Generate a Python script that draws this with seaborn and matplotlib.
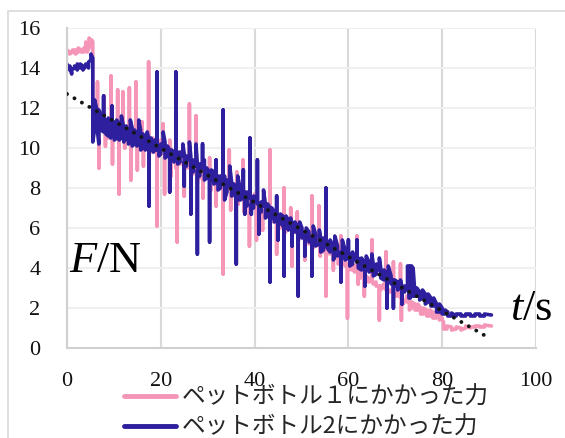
import matplotlib
matplotlib.use("Agg")
import matplotlib.pyplot as plt
from matplotlib.patches import Rectangle
import pandas as pd
import seaborn as sns

# force F [N] against time t [s].
# each entry is one vertical stroke of the logger trace: (t, F, F, ...)
bottle1 = [
    (0.0, 14.7, 14.9), (0.6, 14.8, 14.7), (1.2, 14.8, 14.9), (1.8, 14.9, 14.7),
    (2.4, 14.8, 15.0), (3.0, 14.9, 14.8), (3.6, 14.8, 15.0), (4.0, 15.0, 15.3),
    (4.3, 15.1, 14.8), (4.7, 15.0, 15.5), (5.0, 15.4, 15.1), (5.3, 15.2, 15.4),
    (5.5, 15.3, 11.3), (6.0, 11.2, 12.0), (6.5, 11.5, 13.3, 11.6), (6.8, 11.4, 9.0, 11.2),
    (7.3, 11.0, 11.5), (7.9, 11.0, 12.6, 11.2), (8.2, 11.2, 10.1, 11.0), (8.8, 10.5, 11.3),
    (9.4, 11.0, 13.6, 11.1), (9.7, 11.0, 9.2, 10.9), (10.2, 10.9, 11.1),
    (10.8, 10.7, 12.9, 10.9), (11.1, 10.9, 7.7, 10.7), (11.5, 10.7, 11.0),
    (11.9, 10.9, 12.8, 10.8), (12.3, 10.8, 10.0, 10.6), (12.8, 10.3, 11.1),
    (13.3, 10.6, 13.0, 10.7), (13.6, 10.7, 8.4, 10.5), (14.1, 10.5, 10.8),
    (14.7, 10.4, 13.3, 10.5), (15.0, 10.5, 8.9, 10.3), (15.5, 10.2, 10.6),
    (16.0, 10.2, 11.3, 10.4), (16.3, 10.4, 9.1, 10.2), (16.9, 10.1, 10.4),
    (17.4, 10.0, 14.3, 10.1), (17.7, 10.1, 9.8), (18.3, 9.8, 10.5), (18.8, 10.2, 9.8),
    (19.2, 9.9, 6.1, 9.8), (19.6, 9.8, 10.0), (20.0, 9.8, 10.4),
    (20.5, 10.0, 11.2, 9.9), (20.8, 9.9, 7.7, 9.7), (21.3, 9.6, 9.9),
    (21.9, 9.7, 10.4), (22.2, 9.6, 8.6, 9.5), (22.8, 9.4, 9.7), (23.2, 9.5, 9.0),
    (23.5, 9.2, 5.3, 9.2), (23.9, 9.2, 9.4), (24.3, 9.2, 9.7), (24.7, 9.5, 9.9),
    (25.0, 9.4, 7.6, 9.1), (25.5, 9.0, 9.3), (26.1, 9.1, 12.2, 9.0),
    (26.4, 9.0, 8.4, 8.9), (26.9, 8.7, 9.2), (27.5, 9.0, 11.6, 8.9),
    (27.8, 8.9, 8.2, 8.7), (28.4, 8.5, 9.0), (29.0, 8.8, 7.5, 8.6), (29.4, 8.6, 8.9),
    (29.9, 8.7, 8.5), (30.4, 8.6, 9.5, 8.5), (30.7, 8.5, 7.9, 8.4), (31.2, 8.3, 8.6),
    (31.8, 8.4, 7.1, 8.2), (32.2, 8.1, 8.4), (32.7, 8.3, 8.0), (33.0, 8.1, 8.6),
    (33.3, 8.2, 3.7, 8.0), (33.6, 7.9, 8.1), (34.1, 7.9, 8.3),
    (34.6, 8.0, 9.9, 7.9), (34.9, 7.9, 6.9, 7.7), (35.5, 7.6, 7.9),
    (36.2, 7.7, 8.8, 7.6), (36.5, 7.6, 7.2, 7.5), (37.0, 7.4, 7.9),
    (37.5, 7.7, 9.4, 7.5), (37.8, 7.5, 6.8, 7.3), (38.4, 7.1, 7.6),
    (38.9, 7.4, 5.1, 7.2), (39.3, 7.1, 7.4), (40.0, 7.2, 7.7),
    (40.4, 7.2, 5.4, 7.0), (40.8, 6.9, 7.1), (41.3, 7.0, 6.7),
    (41.7, 6.8, 5.9, 6.7), (42.1, 6.6, 6.9), (42.7, 6.8, 7.2),
    (43.3, 6.8, 9.9, 6.6), (43.6, 6.6, 6.3), (44.2, 6.5, 6.8),
    (44.7, 6.6, 4.7, 6.4), (45.0, 6.3, 6.5), (45.7, 6.3, 6.0),
    (46.3, 6.2, 8.0, 6.1), (46.6, 6.1, 5.8), (47.2, 6.0, 6.3),
    (47.7, 6.1, 7.0, 6.0), (48.0, 6.0, 4.1, 5.9), (48.5, 5.8, 5.9),
    (49.1, 5.8, 6.8, 5.7), (49.4, 5.7, 5.4), (50.0, 5.6, 5.8),
    (50.7, 5.6, 4.4, 5.5), (51.0, 5.4, 5.7), (51.6, 5.5, 5.2),
    (52.2, 5.4, 7.6, 5.3), (52.5, 5.3, 5.0), (53.1, 5.2, 5.4),
    (53.7, 5.2, 7.1, 5.1), (54.0, 5.1, 4.6, 5.0), (54.6, 4.8, 5.0),
    (55.2, 4.9, 2.6, 4.8), (55.5, 4.7, 4.8), (56.2, 4.7, 5.0),
    (56.8, 4.7, 3.9, 4.6), (57.2, 4.5, 4.7), (57.8, 4.5, 4.2),
    (58.4, 4.4, 5.6, 4.3), (58.7, 4.3, 4.2), (59.3, 4.3, 4.1),
    (59.8, 4.2, 1.5, 4.0), (60.1, 3.9, 4.0), (60.8, 3.9, 4.2), (61.3, 4.1, 3.8),
    (61.8, 3.9, 5.6, 3.8), (62.1, 3.8, 3.2, 3.7), (62.6, 3.5, 3.9), (63.0, 3.8, 3.6),
    (63.4, 3.6, 2.6, 3.5), (63.7, 3.4, 3.6), (64.3, 3.5, 3.3),
    (65.0, 3.4, 5.4, 3.3), (65.3, 3.3, 3.2), (65.9, 3.3, 3.1),
    (66.6, 3.1, 1.4, 3.0), (66.9, 2.9, 3.1), (67.5, 3.0, 3.2),
    (68.0, 3.0, 4.8, 2.9), (68.3, 2.9, 2.8), (68.9, 2.8, 2.9),
    (69.6, 2.8, 4.3, 2.7), (69.9, 2.7, 2.6), (70.5, 2.6, 2.8),
    (71.1, 2.7, 4.2, 2.5), (71.3, 2.5, 1.4, 2.3), (71.7, 2.2, 2.4),
    (72.4, 2.3, 2.6), (73.0, 2.4, 1.9), (73.5, 2.0, 2.3), (74.2, 2.2, 1.9),
    (74.8, 1.9, 2.2), (75.4, 2.0, 1.7), (76.0, 1.7, 2.0), (76.7, 1.9, 1.6),
    (77.4, 1.6, 1.9), (78.0, 1.8, 1.5), (78.7, 1.5, 1.8), (79.4, 1.7, 1.4),
    (80.0, 1.5, 1.4), (80.3, 1.3, 0.95), (81.0, 0.95, 1.1), (82.0, 1.05, 0.9),
    (83.0, 0.95, 1.05), (84.0, 1.0, 0.9), (85.0, 1.0, 1.1), (86.0, 1.0, 1.05),
    (87.0, 1.05, 1.1), (88.0, 1.1, 1.05), (89.0, 1.05, 1.15), (90.5, 1.1, 1.1),
]

bottle2 = [
    (0.0, 14.2, 14.0), (0.6, 13.9, 14.1), (1.0, 13.7, 13.9), (1.6, 14.0, 14.1),
    (2.2, 13.9, 14.2), (2.8, 14.0, 14.2), (3.4, 14.1, 13.9), (4.0, 14.1, 14.2),
    (4.6, 14.0, 14.3), (5.1, 14.4, 14.7), (5.5, 14.5, 10.3), (5.9, 11.0, 12.4),
    (6.3, 12.0, 11.2), (6.8, 10.2, 11.9), (7.3, 11.6, 10.9), (7.8, 10.8, 12.6, 11.2),
    (8.3, 11.4, 10.7), (8.8, 10.6, 11.5), (9.3, 11.2, 10.5), (9.6, 10.6, 12.1, 11.0),
    (10.1, 11.3, 10.4), (10.6, 10.5, 11.4), (11.1, 11.2, 10.4), (11.6, 10.5, 11.6),
    (12.1, 11.0, 10.3), (12.6, 10.5, 11.1), (13.1, 10.8, 10.2), (13.5, 10.3, 11.4),
    (13.9, 11.0, 10.1), (14.4, 10.2, 10.9), (14.9, 10.7, 10.1), (15.3, 10.2, 11.4),
    (15.7, 10.9, 9.9), (16.2, 10.0, 10.7), (16.7, 10.5, 9.9), (17.1, 10.0, 10.8),
    (17.5, 10.4, 7.1, 10.0), (17.9, 9.9, 10.5), (18.4, 10.3, 9.8), (18.8, 9.9, 10.4),
    (19.2, 10.2, 13.8, 9.9), (19.6, 10.1, 9.6), (20.0, 9.7, 10.2), (20.5, 10.0, 10.8),
    (20.9, 10.3, 9.5), (21.4, 9.6, 10.1), (21.9, 9.9, 7.8, 9.5), (22.3, 9.4, 9.9),
    (22.8, 9.8, 9.3), (23.2, 9.5, 13.8, 9.6), (23.6, 9.8, 9.2), (24.1, 9.3, 9.8),
    (24.7, 9.6, 10.2), (25.0, 9.7, 8.1, 9.3), (25.5, 9.1, 9.6), (26.1, 9.4, 10.3),
    (26.4, 9.6, 6.7, 9.2), (26.9, 8.8, 9.4), (27.5, 9.1, 10.2),
    (27.8, 9.2, 4.7, 8.9), (28.3, 8.6, 9.2), (28.9, 9.0, 10.2, 9.2),
    (29.3, 9.4, 8.4), (29.8, 8.5, 9.0), (30.4, 8.8, 5.3, 8.6), (30.8, 8.4, 8.9),
    (31.3, 8.8, 8.2), (31.8, 8.3, 9.4, 8.6), (32.2, 8.6, 7.9), (32.7, 8.0, 8.6),
    (33.3, 8.4, 11.9, 8.2), (33.6, 8.6, 7.4), (34.1, 7.8, 8.4), (34.7, 8.1, 9.1),
    (35.1, 8.3, 7.6), (35.6, 7.7, 8.2), (36.1, 8.0, 4.2, 7.8), (36.4, 7.4, 8.6),
    (36.9, 8.0, 7.4), (37.6, 7.5, 8.9, 7.7), (37.9, 7.8, 6.7, 7.4), (38.4, 7.1, 7.8),
    (39.0, 7.6, 10.5, 7.5), (39.3, 7.5, 6.7, 7.2), (39.8, 7.0, 7.6),
    (40.6, 7.3, 9.4, 7.2), (40.9, 7.2, 5.7, 7.0), (41.4, 6.8, 7.3),
    (41.9, 7.1, 7.9), (42.3, 7.2, 6.5), (42.8, 6.6, 7.2), (43.3, 7.0, 3.3, 6.8),
    (43.7, 6.5, 7.0), (44.2, 6.8, 6.3), (44.7, 6.4, 7.6, 6.6), (45.0, 6.6, 5.4, 6.4),
    (45.5, 6.2, 6.7), (46.0, 6.6, 6.1), (46.3, 6.2, 3.6, 6.1), (46.7, 6.0, 6.6),
    (47.2, 6.4, 5.9), (47.7, 6.0, 6.5), (48.0, 6.2, 5.1, 6.0), (48.6, 5.8, 6.3),
    (49.3, 6.0, 2.6, 5.9), (49.6, 5.7, 6.3), (50.1, 6.0, 5.5), (50.7, 5.8, 4.6, 5.7),
    (51.0, 5.5, 6.0), (51.6, 5.8, 5.3), (52.2, 5.5, 3.6, 5.4), (52.5, 5.3, 6.1),
    (53.0, 5.7, 5.1), (53.8, 5.2, 5.9), (54.1, 5.5, 4.8), (54.7, 4.9, 5.5),
    (55.2, 5.1, 8.0, 5.2), (55.5, 5.3, 5.0), (56.1, 4.8, 5.4), (56.8, 5.1, 4.4),
    (57.1, 4.6, 5.6), (57.7, 5.1, 4.6), (58.4, 4.8, 3.3, 4.7), (58.7, 4.5, 5.4),
    (59.3, 4.9, 4.4), (60.0, 4.5, 5.4, 4.6), (60.3, 4.7, 4.1), (60.9, 4.2, 4.8),
    (61.8, 4.3, 5.4, 4.4), (62.1, 4.5, 4.0), (62.8, 3.9, 4.5), (63.5, 4.2, 3.1, 4.1),
    (63.8, 3.9, 4.6), (64.4, 4.3, 3.8), (65.0, 3.9, 4.7), (65.3, 4.2, 3.6),
    (66.0, 3.7, 4.2), (66.6, 3.9, 4.5), (66.9, 4.0, 3.5), (67.6, 3.4, 3.9),
    (68.2, 3.7, 2.0, 3.6), (68.5, 3.3, 4.1), (69.1, 3.6, 3.2), (69.6, 3.4, 2.0, 3.3),
    (69.9, 3.1, 3.4), (70.5, 3.3, 2.9), (71.1, 3.0, 3.4), (71.4, 3.1, 2.2, 3.0),
    (72.0, 2.8, 3.1), (72.6, 2.9, 4.1), (72.9, 4.1, 2.5), (73.2, 2.5, 4.1),
    (73.5, 4.1, 2.6), (73.8, 2.6, 4.0), (74.1, 3.0, 2.6), (74.6, 2.6, 3.0),
    (75.2, 2.8, 2.4), (75.8, 2.5, 2.9), (76.4, 2.7, 2.2), (77.0, 2.3, 2.7),
    (77.6, 2.5, 2.1), (78.2, 2.1, 2.5), (78.8, 2.2, 1.8), (79.4, 1.8, 2.2),
    (80.0, 2.0, 1.7), (80.6, 1.7, 1.9), (81.2, 1.8, 1.6), (82.0, 1.6, 1.75),
    (83.0, 1.6, 1.7), (84.0, 1.7, 1.6), (85.0, 1.6, 1.7), (86.0, 1.7, 1.6),
    (87.0, 1.6, 1.7), (88.0, 1.7, 1.6), (89.0, 1.6, 1.7), (90.5, 1.65, 1.65),
]

# linear trendline end points
trend_t = [0, 90]
trend_f = [12.7, 0.5]

labels = ["ペットボトル１にかかった力", "ペットボトル2にかかった力"]
colors = ["#F595B8", "#2D1F9E"]
x_ticks = [0, 20, 40, 60, 80, 100]
y_ticks = [0, 2, 4, 6, 8, 10, 12, 14, 16]

sns.set_theme(style="white")
plt.rcParams["font.family"] = ["Liberation Serif", "Noto Sans CJK JP", "DejaVu Sans"]
plt.rcParams["mathtext.fontset"] = "custom"
plt.rcParams["mathtext.rm"] = "Liberation Serif"
plt.rcParams["mathtext.it"] = "Liberation Serif:italic"

frames = []
for lab, strokes in zip(labels, [bottle1, bottle2]):
    rows = []
    for t, *vals in strokes:
        for v in vals:
            rows.append((t, v))
    d = pd.DataFrame(rows, columns=["t", "F"])
    d["series"] = lab
    frames.append(d)
df = pd.concat(frames, ignore_index=True)

fig = plt.figure(figsize=(5.65, 4.38), dpi=100)
ax = fig.add_axes([67 / 565, 1 - 348 / 438, 469 / 565, 320 / 438])

sns.lineplot(data=df, x="t", y="F", hue="series", hue_order=labels,
             palette=colors, sort=False, estimator=None, linewidth=2.6,
             legend=False, ax=ax)
ax.plot(trend_t, trend_f, color="#141414", linewidth=2.8,
        linestyle=(0, (0.01, 2.2)), dash_capstyle="round", zorder=5)

ax.set_xlim(0, 100)
ax.set_ylim(0, 16)
ax.set_xticks(x_ticks)
ax.set_yticks(y_ticks)
ax.set_xlabel("")
ax.set_ylabel("")
ax.tick_params(axis="both", length=0, labelsize=16, colors="#111111")
ax.tick_params(axis="x", pad=17)
ax.tick_params(axis="y", pad=19)
ax.xaxis.grid(True, color="#D9D9D9", linewidth=1.5)
ax.yaxis.grid(True, color="#EFEFEF", linewidth=1.5)
ax.set_axisbelow(True)
for side in ["top", "right"]:
    ax.spines[side].set_visible(False)
for side in ["left", "bottom"]:
    ax.spines[side].set_color("#D0D0D0")
    ax.spines[side].set_linewidth(1.5)

ax.text(0.5, 3.8, r"$F$/N", fontsize=32, color="black", va="baseline")
ax.text(94.5, 1.4, r"$t$/s", fontsize=32, color="black", va="baseline",
        clip_on=False)

handles = ax.lines[:2]
leg = fig.legend(handles, labels, loc="upper left",
                 bbox_to_anchor=(124 / 565, 1 - 386 / 438), frameon=False,
                 borderpad=0, borderaxespad=0, handlelength=2.2,
                 handletextpad=0.25, labelspacing=0.3,
                 prop={"family": ["Noto Sans CJK JP"], "size": 17})
for line in leg.get_lines():
    line.set_linewidth(3.5)

fig.patches.append(Rectangle((8 / 565, -0.1), 1.2, 1.1 - 11 / 438,
                             transform=fig.transFigure, fill=False,
                             edgecolor="#D9D9D9", linewidth=1.2))

fig.savefig("out.png", dpi=100)
